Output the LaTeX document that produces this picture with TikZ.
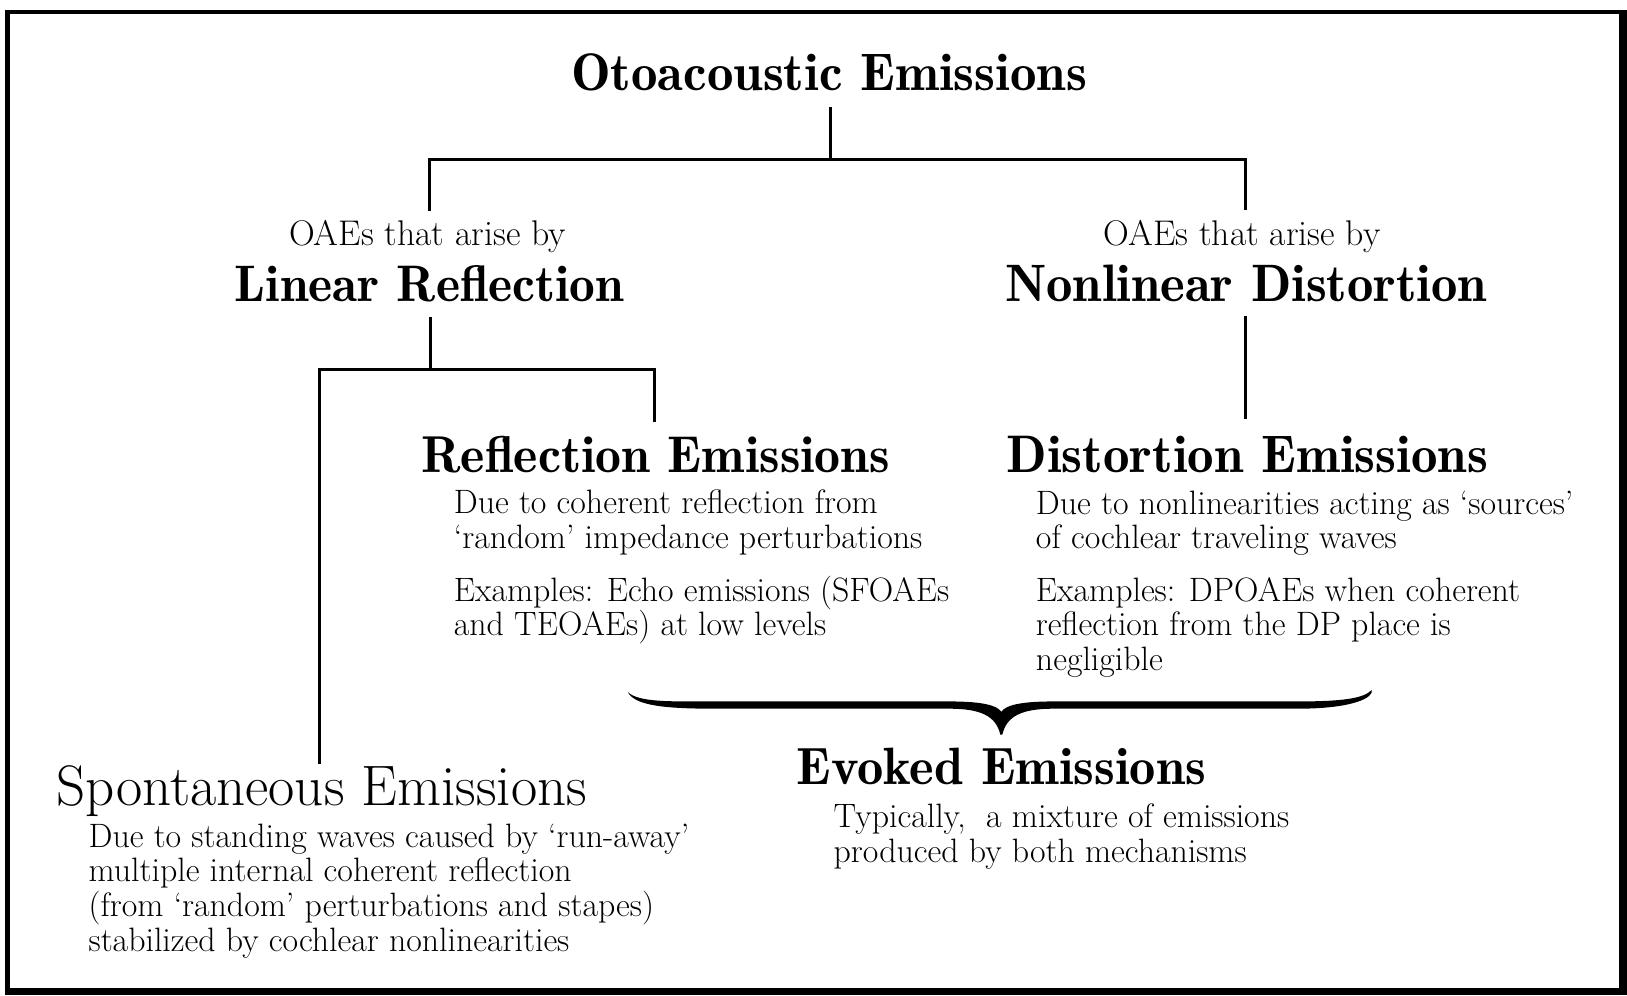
\documentclass[tikz,border=0pt]{standalone}
\begin{document}
\begin{tikzpicture}[x=0.5pt,y=-0.5pt,
  head/.style={anchor=base, inner sep=0pt, font=\fontsize{#1}{28}\fontseries{b}\selectfont},
  headreg/.style={anchor=base, inner sep=0pt, font=\fontsize{27.5}{30}\selectfont},
  sub/.style={anchor=base, inner sep=0pt, font=\fontsize{17.2}{20}\selectfont},
  body/.style={anchor=north west, inner sep=0pt, align=left, font=\fontsize{16.3}{16.75}\selectfont},
  conn/.style={line width=1.5pt, line cap=rect, line join=miter}]
\useasboundingbox (0,0) rectangle (1568,959);
% frame
\draw[line width=2.2pt] (7,955) -- (7,11.5) -- (1562,11.5);
\fill (1560,9.3) rectangle (1568,959);
\fill (4.8,952) rectangle (1568,959);

% headings
\node[head=25.5] (title) at (799,87) {Otoacoustic Emissions};
\node[sub] (lrpre) at (412,237) {OAEs that arise by};
\node[head=24.8] (lr) at (414,291) {Linear Reflection};
\node[sub] (ndpre) at (1197,237) {OAEs that arise by};
\node[head=25.4] (nd) at (1201,291) {Nonlinear Distortion};
\node[head=25] (re) at (632,455) {Reflection Emissions};
\node[head=25.5] (de) at (1202,455) {Distortion Emissions};
\node[head=25.3] (ee) at (965,756) {Evoked Emissions};
\node[headreg] (se) at (310,776) {Spontaneous Emissions};

% bodies
\node[body] (reb) at (437,470.5) {\rule{0pt}{0.75em}Due to coherent reflection from\\‘random’ impedance perturbations\\[8.5pt]Examples: Echo emissions (SFOAEs\\and TEOAEs) at low levels};
\node[body] (deb) at (998,470.5) {\rule{0pt}{0.75em}Due to nonlinearities acting as ‘sources’\\of cochlear traveling waves\\[8.5pt]Examples: DPOAEs when coherent\\reflection from the DP place is\\negligible};
\node[body] (eeb) at (803,772.5) {\rule{0pt}{0.75em}Typically,\hspace{0.6em}a mixture of emissions\\produced by both mechanisms};
\node[body] (seb) at (85,791.5) {\rule{0pt}{0.75em}Due to standing waves caused by ‘run-away’\\multiple internal coherent reflection\\(from ‘random’ perturbations and stapes)\\stabilized by cochlear nonlinearities};

% connector coordinates
\coordinate (c0) at (800,105);
\coordinate (c1) at (800,154);
\coordinate (cl) at (414,154);
\coordinate (cr) at (1200,154);
\coordinate (cl2) at (414,202);
\coordinate (cr2) at (1200,201);
\coordinate (d0) at (415,307);
\coordinate (d1) at (415,356.5);
\coordinate (dl) at (308,356.5);
\coordinate (dr) at (631,356.5);
\coordinate (dr2) at (631,405);
\coordinate (dl2) at (308,735);
\coordinate (e0) at (1200,306);
\coordinate (e1) at (1200,402);

\draw[conn] (c0) -- (c1);
\draw[conn] (cl2) -- (cl) -- (cr) -- (cr2);
\draw[conn] (d0) -- (d1);
\draw[conn] (dl2) -- (dl) -- (dr) -- (dr2);
\draw[conn] (e0) -- (e1);

% brace
\fill (605,667) .. controls (616,677) and (645,676) .. (690,676)
  -- (915,676) .. controls (948,676) and (961,680) .. (965,686)
  .. controls (969,680) and (982,676) .. (1015,676)
  -- (1250,676) .. controls (1295,676) and (1314,673) .. (1322,665)
  .. controls (1324,672) and (1305,683) .. (1250,683)
  -- (1015,683) .. controls (985,683) and (970,690) .. (966,708)
  -- (964,708) .. controls (960,690) and (945,683) .. (915,683)
  -- (690,683) .. controls (640,683) and (612,680) .. (605,667) -- cycle;
\end{tikzpicture}
\end{document}
